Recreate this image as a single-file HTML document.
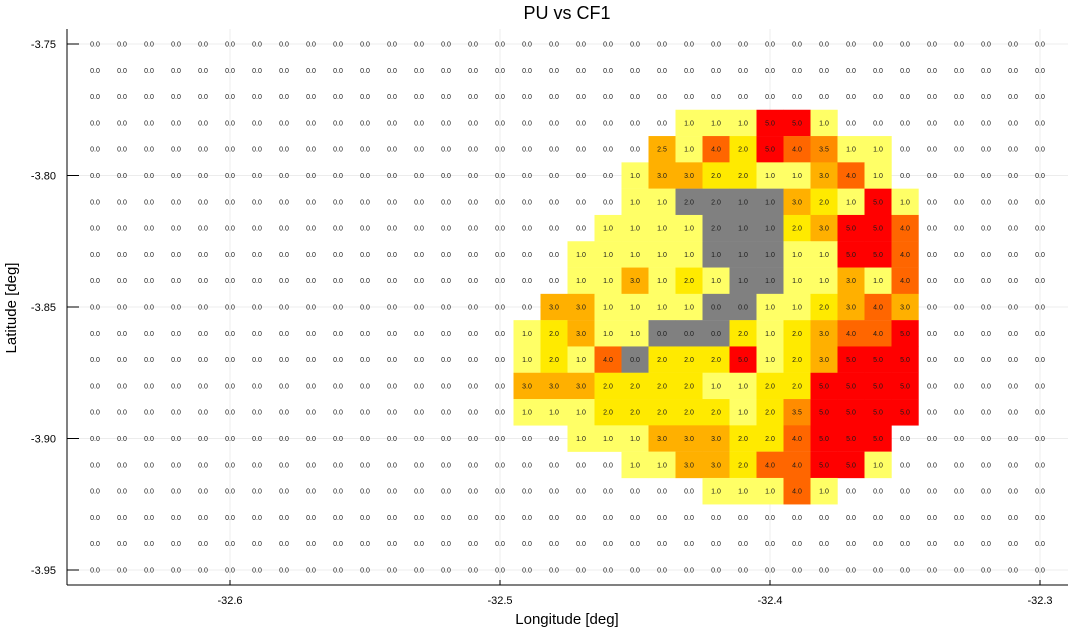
<!DOCTYPE html>
<html><head><meta charset="utf-8"><style>
body{margin:0;background:#fff;}
svg{display:block;font-family:"Liberation Sans","DejaVu Sans",sans-serif;}
</style></head><body>
<svg id="chart" width="1080" height="630" viewBox="0 0 1080 630" xmlns="http://www.w3.org/2000/svg">
<text x="567" y="19" font-size="18" text-anchor="middle" fill="#000">PU vs CF1</text>
<text x="567" y="624" font-size="15" text-anchor="middle" fill="#000">Longitude [deg]</text>
<text x="16" y="308" font-size="15" text-anchor="middle" fill="#000" transform="rotate(-90 16 308)">Latitude [deg]</text>
<g id="grid"></g><g id="cells"></g><g id="axes"></g>
</svg>
<script>
const lonStart = -32.65, lonStep = 0.01, nCols = 36;
const latStart = -3.75, latStep = -0.01, nRows = 21;
const xTicks = [-32.6, -32.5, -32.4, -32.3];
const xTickLabels = ["-32.6", "-32.5", "-32.4", "-32.3"];
const yTicks = [-3.75, -3.80, -3.85, -3.90, -3.95];
const yTickLabels = ["-3.75", "-3.80", "-3.85", "-3.90", "-3.95"];
// nonzero values per row: row index -> [startCol, values...]
const rowData = [
 [0],[0],[0],
 [22,1,1,1,5,5,1],
 [21,2.5,1,4,2,5,4,3.5,1,1],
 [20,1,3,3,2,2,1,1,3,4,1],
 [20,1,1,2,2,1,1,3,2,1,5,1],
 [19,1,1,1,1,2,1,1,2,3,5,5,4],
 [18,1,1,1,1,1,1,1,1,1,1,5,5,4],
 [18,1,1,3,1,2,1,1,1,1,1,3,1,4],
 [17,3,3,1,1,1,1,0,0,1,1,2,3,4,3],
 [16,1,2,3,1,1,0,0,0,2,1,2,3,4,4,5],
 [16,1,2,1,4,0,2,2,2,5,1,2,3,5,5,5],
 [16,3,3,3,2,2,2,2,1,1,2,2,5,5,5,5],
 [16,1,1,1,2,2,2,2,2,1,2,3.5,5,5,5,5],
 [18,1,1,1,3,3,3,2,2,4,5,5,5],
 [20,1,1,3,3,2,4,4,5,5,1],
 [23,1,1,1,4,1],
 [0],[0],[0]
];
// masked (grey) cells: [row, col]
const greyCells = [[6,22],[6,23],[6,24],[6,25],[7,23],[7,24],[7,25],[8,23],[8,24],[8,25],[9,24],[9,25],[10,23],[10,24],[11,21],[11,22],[11,23],[12,20]];

const X0 = 95, PXX = 27 / 0.01;
const Y0 = 44, PXY = 26.3 / 0.01;
const xs = v => X0 + (v - lonStart) * PXX;
const ys = v => Y0 + (latStart - v) * PXY;
const L = 67, R = 1068, T = 29, B = 585;
const NS = "http://www.w3.org/2000/svg";
function mk(tag, attrs, parent, txt){const e=document.createElementNS(NS,tag);for(const k in attrs)e.setAttribute(k,attrs[k]);if(txt!==undefined)e.textContent=txt;parent.appendChild(e);return e;}
function color(v){if(v>=5)return"#ff0000";if(v>=4)return"#ff6600";if(v>=3.5)return"#ff8c00";if(v>=2.5)return"#ffb000";if(v>=2)return"#ffea00";if(v>=1)return"#ffff66";return null;}
const grid=document.getElementById('grid'),cells=document.getElementById('cells'),axes=document.getElementById('axes');
xTicks.forEach((t,i)=>{
  const g=mk('line',{x1:xs(t),x2:xs(t),y1:T,y2:B,stroke:'#ececec','stroke-width':1},grid);
  
  
});
yTicks.forEach((t,i)=>{
  const g=mk('line',{x1:L,x2:R,y1:ys(t),y2:ys(t),stroke:'#ececec','stroke-width':1},grid);
  
  
});
const greySet=new Set(greyCells.map(p=>p[0]+','+p[1]));
for(let r=0;r<nRows;r++){
  const rd=rowData[r];const vals=new Array(nCols).fill(0);
  for(let k=1;k<rd.length;k++)vals[rd[0]+k-1]=rd[k];
  const lat=latStart+r*latStep;
  for(let c=0;c<nCols;c++){
    const lon=lonStart+c*lonStep;const v=vals[c];
    const cx=xs(lon),cy=ys(lat);
    const fill=greySet.has(r+','+c)?'#808080':color(v);
    if(fill){
      const rc=mk('rect',{x:cx-13.5,y:cy-13.15,width:27.2,height:26.5,fill:fill},cells);
      
      
    }
    const t=mk('text',{x:cx,y:cy+2.5,'font-size':7,'text-anchor':'middle',fill:'#1a1a1a'},cells,v.toFixed(1));
    
    
  }
}
mk('line',{x1:L,x2:L,y1:T,y2:B,stroke:'#000','stroke-width':1},axes);
mk('line',{x1:L,x2:R,y1:B,y2:B,stroke:'#000','stroke-width':1},axes);
xTicks.forEach((t,i)=>{
  mk('line',{x1:xs(t),x2:xs(t),y1:B,y2:B-5,stroke:'#000'},axes);
  const l=mk('text',{x:xs(t),y:B+19,'font-size':11,'text-anchor':'middle',fill:'#000'},axes,xTickLabels[i]);
  
  
});
yTicks.forEach((t,i)=>{
  mk('line',{x1:L,x2:L+12,y1:ys(t),y2:ys(t),stroke:'#000'},axes);
  const l=mk('text',{x:L-11,y:ys(t)+4,'font-size':11,'text-anchor':'end',fill:'#000'},axes,yTickLabels[i]);
  
  
});
</script>
</body></html>
